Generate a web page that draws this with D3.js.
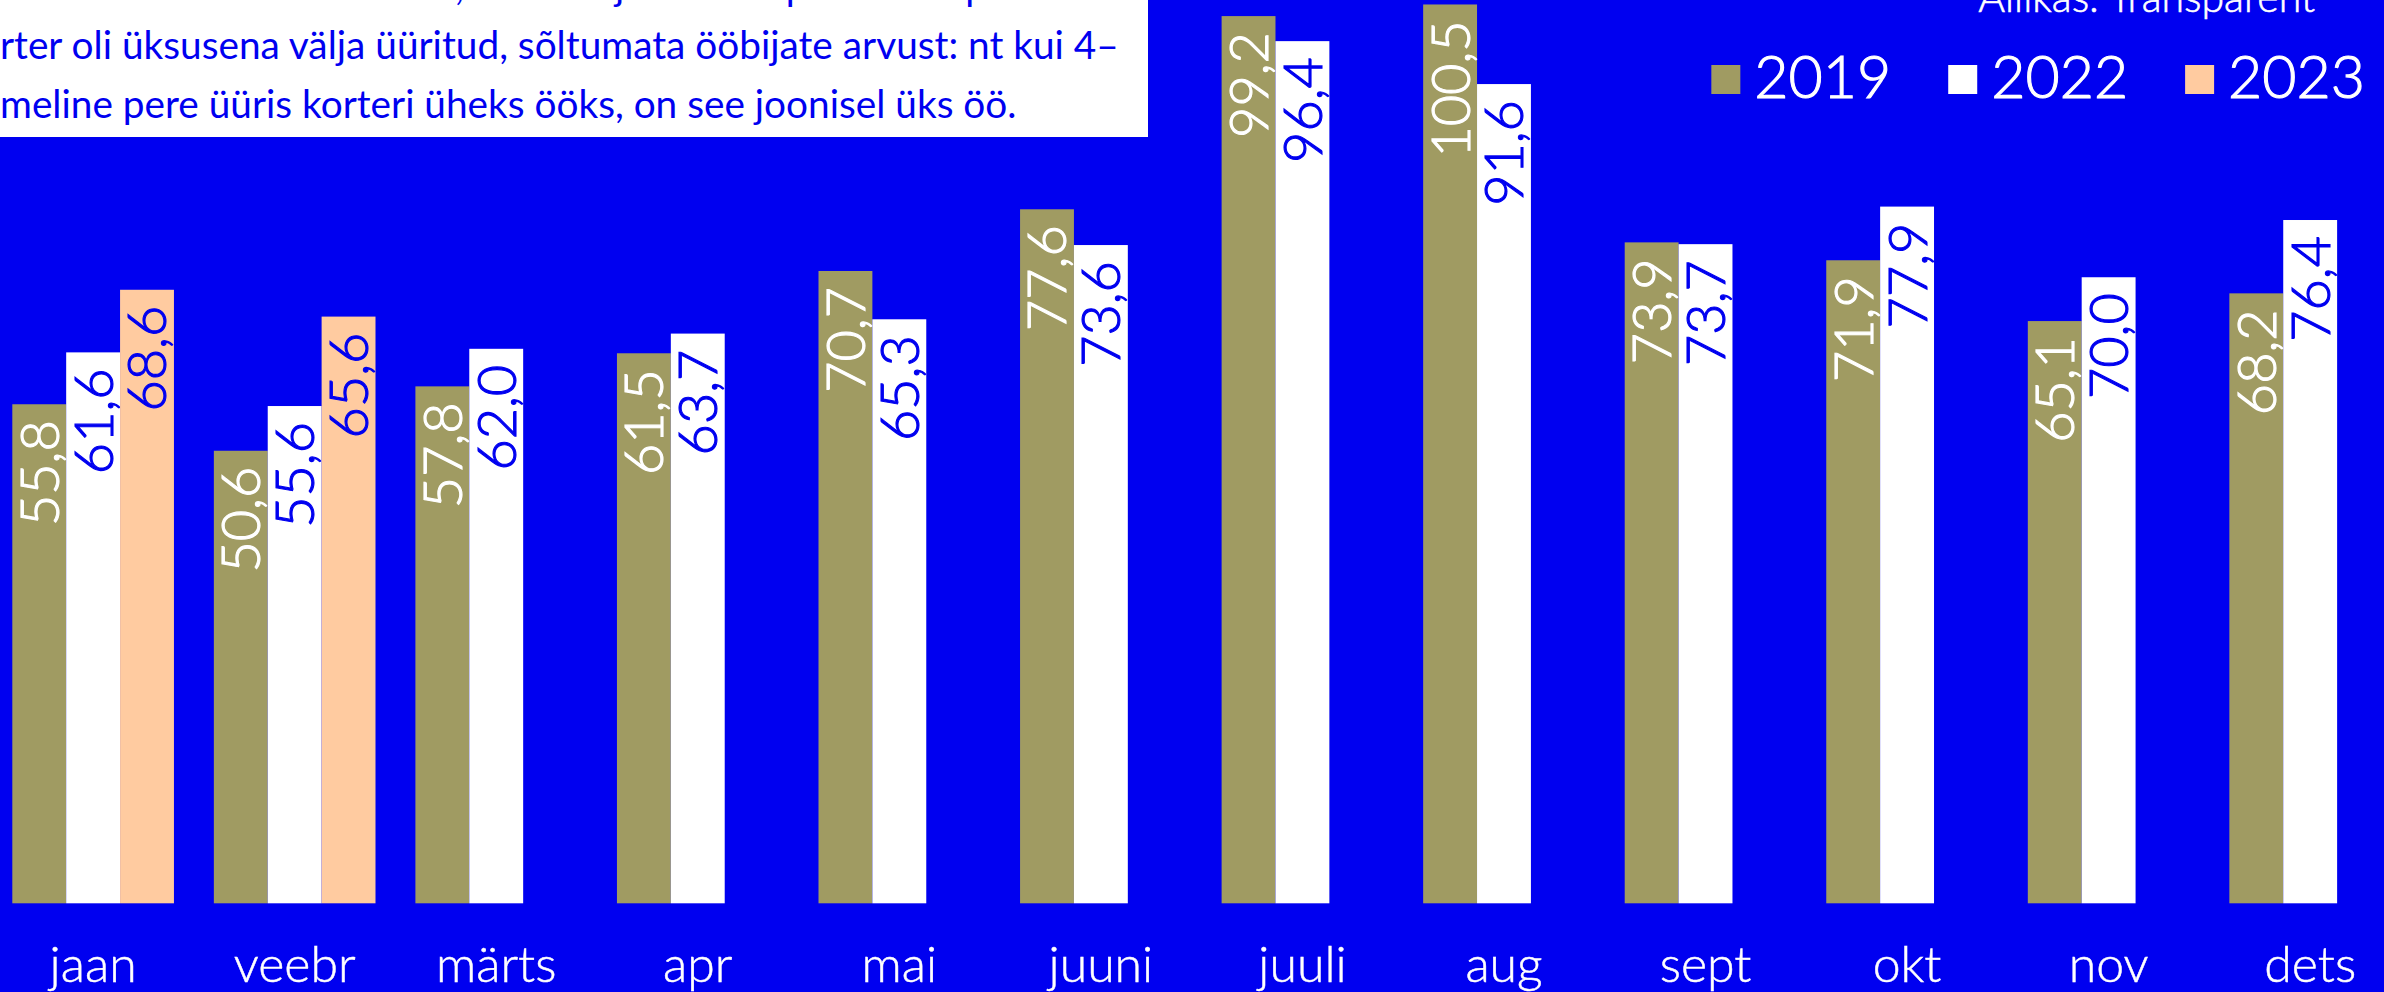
<!DOCTYPE html>
<html>
<head>
<meta charset="utf-8">
<script src="https://cdn.jsdelivr.net/npm/d3@7"></script>
<style>
  html, body { margin: 0; padding: 0; background: #0000f0; overflow: hidden; }
  svg { display: block; }
  text { font-family: Lato, "Open Sans", sans-serif; }
</style>
</head>
<body>
<svg id="chart"></svg>
<script>
// months on the x axis and the three years being compared
var months = ["jaan", "veebr", "märts", "apr", "mai", "juuni", "juuli", "aug", "sept", "okt", "nov", "dets"];
var years = ["2019", "2022", "2023"];

// nights per month (thousands); 2023 only has two months so far
var values2019 = [55.8, 50.6, 57.8, 61.5, 70.7, 77.6, 99.2, 100.5, 73.9, 71.9, 65.1, 68.2];
var values2022 = [61.6, 55.6, 62.0, 63.7, 65.3, 73.6, 96.4, 91.6, 73.7, 77.9, 70.0, 76.4];
var values2023 = [68.6, 65.6, null, null, null, null, null, null, null, null, null, null];

// note box text (the part before "|" falls off the left edge) and source line
var noteLines = [
  "ko|Joonisel on arvestatud ööd, mil lühiajalise üüri platvormil pakutud korter või ko-",
  "ko|rter oli üksusena välja üüritud, sõltumata ööbijate arvust: nt kui 4–",
  "liik|meline pere üüris korteri üheks ööks, on see joonisel üks öö."
];
var source = "Allikas: Transparent";

var width = 2384, height = 992;
var blue = "#0000f0";
var colors = { "2019": "#a09b62", "2022": "#ffffff", "2023": "#ffcba0" };
var labelColors = { "2019": "#ffffff", "2022": blue, "2023": blue };

var svg = d3.select("#chart")
  .attr("width", width)
  .attr("height", height);

svg.append("rect")
  .attr("width", width)
  .attr("height", height)
  .attr("fill", blue);

// one row per month, one cell per year
var series = { "2019": values2019, "2022": values2022, "2023": values2023 };
var data = months.map(function(m, i) {
  return {
    month: m,
    bars: years.map(function(y) { return { year: y, value: series[y][i] }; })
  };
});

var x = d3.scaleBand()
  .domain(months)
  .range([12.3, 2391])
  .paddingInner(0.198)
  .paddingOuter(0);

var xYear = d3.scaleBand()
  .domain(years)
  .range([0, x.bandwidth()]);

var y = d3.scaleLinear()
  .domain([0, 101])
  .range([903.3, 0]);

var fmt = function(v) { return d3.format(".1f")(v).replace(".", ","); };

var groups = svg.append("g")
  .selectAll("g.month")
  .data(data)
  .enter()
  .append("g")
    .attr("class", "month")
    .attr("transform", function(d) { return "translate(" + x(d.month) + ",0)"; });

var bars = groups.selectAll("g.bar")
  .data(function(d) { return d.bars.filter(function(b) { return b.value != null; }); })
  .enter()
  .append("g")
    .attr("class", "bar");

bars.append("rect")
  .attr("x", function(d) { return xYear(d.year); })
  .attr("y", function(d) { return y(d.value); })
  .attr("width", xYear.bandwidth())
  .attr("height", function(d) { return y(0) - y(d.value); })
  .attr("fill", function(d) { return colors[d.year]; });

// value labels run upwards inside the top of each bar
// (light weight plus a thin stroke gives the in-between weight of the original)
var labelSize = 54;
bars.append("text")
  .attr("transform", function(d) {
    var cx = xYear(d.year) + xYear.bandwidth() / 2 + labelSize * 0.36;
    return "translate(" + cx + "," + (y(d.value) + 16) + ") rotate(-90)";
  })
  .attr("text-anchor", "end")
  .attr("font-size", labelSize)
  .attr("font-weight", 300)
  .attr("fill", function(d) { return labelColors[d.year]; })
  .attr("stroke", function(d) { return labelColors[d.year]; })
  .attr("stroke-width", 1.1)
  .text(function(d) { return fmt(d.value); });

// month names under the bars
var xAxis = svg.append("g")
  .attr("transform", "translate(0,981.7)")
  .call(d3.axisBottom(x).tickSize(0).tickPadding(0));
xAxis.select(".domain").remove();
xAxis.selectAll("text")
  .attr("dy", 0)
  .attr("font-size", 50)
  .attr("font-weight", 300)
  .attr("font-family", "Lato, sans-serif")
  .attr("fill", "#ffffff")
  .attr("stroke", "#ffffff")
  .attr("stroke-width", 0.5);

// white note box in the top left corner
svg.append("rect")
  .attr("x", -10)
  .attr("y", -10)
  .attr("width", 1158)
  .attr("height", 147)
  .attr("fill", "#ffffff");

// size the note font so the second line's visible part spans the box like in the original
var probe = svg.append("text").attr("font-size", 100);
function measure(s) { return probe.text(s).node().getComputedTextLength(); }
var parts1 = noteLines[1].split("|");
var noteSize = 100 * 1119 / measure(parts1[1]);
probe.attr("font-size", noteSize);
var notes = noteLines.map(function(line) {
  var p = line.split("|");
  return { text: p[0] + p[1], x: -measure(p[0]) };
});
probe.remove();

svg.append("g")
  .selectAll("text")
  .data(notes)
  .enter()
  .append("text")
    .attr("x", function(d) { return d.x; })
    .attr("y", function(d, i) { return 0.3 + i * 59; })
    .attr("font-size", noteSize)
    .attr("fill", blue)
    .text(function(d) { return d.text; });

// source line, cut by the top edge
svg.append("text")
  .attr("x", 2315)
  .attr("y", 12)
  .attr("text-anchor", "end")
  .attr("font-size", 41)
  .attr("font-weight", 300)
  .attr("fill", "#ffffff")
  .attr("stroke", "#ffffff")
  .attr("stroke-width", 0.6)
  .text(source);

// legend, right aligned
var legend = svg.append("g");
var items = legend.selectAll("g")
  .data(years)
  .enter()
  .append("g");
items.append("rect")
  .attr("width", 29)
  .attr("height", 29)
  .attr("y", 65)
  .attr("fill", function(d) { return colors[d]; });
items.append("text")
  .attr("y", 98.3)
  .attr("font-size", 59)
  .attr("font-weight", 300)
  .attr("fill", "#ffffff")
  .attr("stroke", "#ffffff")
  .attr("stroke-width", 1.1)
  .text(function(d) { return d; });

var right = 2365;
items.nodes().reverse().forEach(function(node) {
  var g = d3.select(node);
  var w = g.select("text").node().getComputedTextLength();
  var tx = right - w;
  g.select("text").attr("x", tx);
  g.select("rect").attr("x", tx - 14 - 29);
  right = tx - 14 - 29 - 57;
});
</script>
</body>
</html>
